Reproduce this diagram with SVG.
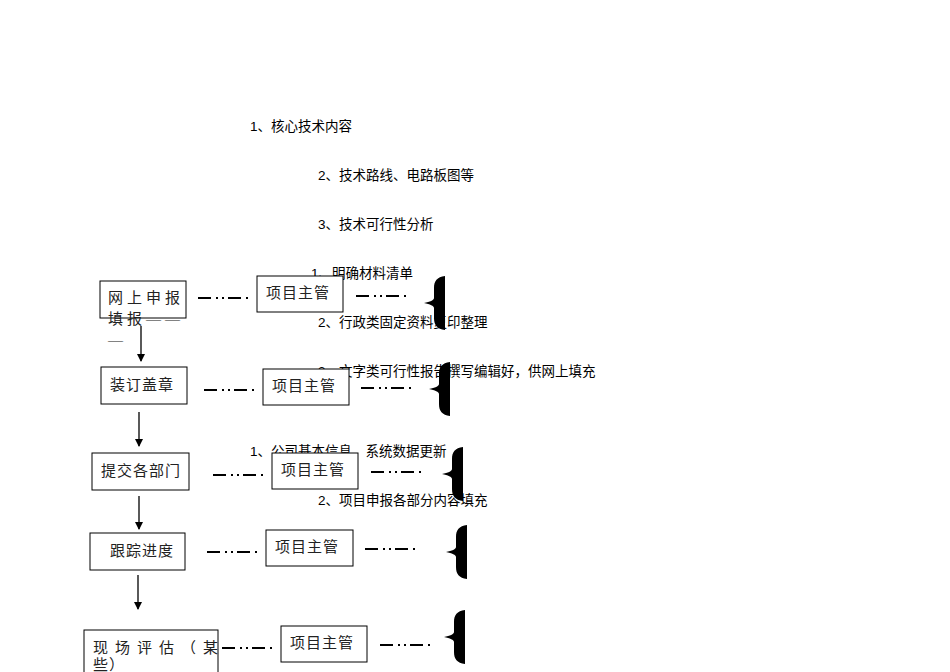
<svg xmlns="http://www.w3.org/2000/svg" width="950" height="672" viewBox="0 0 950 672">
<style>
.t{font-family:"Liberation Sans","Noto Sans CJK SC",sans-serif;font-size:13.5px;fill:#000}
.b{font-family:"Liberation Serif","Noto Sans CJK SC",serif;font-size:15px;fill:#222;letter-spacing:1px}
.box{fill:#fff;stroke:#000;stroke-width:1}
.dd{stroke:#000;stroke-width:2;stroke-dasharray:13 5 2 4 2 4 13 5 2 60}
.ar{stroke:#000;stroke-width:1.3;marker-end:url(#ah)}
</style>
<defs>
<marker id="ah" markerWidth="8" markerHeight="8" refX="7" refY="4" orient="auto" markerUnits="userSpaceOnUse"><path d="M0,0 L8,4 L0,8 z" fill="#000"/></marker>
<path id="br" d="M21,0 C13,1 10,5 10,12 L10,22 C10,24 6,26 0,27 C6,28 10,30 10,32 L10,42 C10,49 13,53 21,54 L21,50 C21,47 21,45 21,41 L21,13 C21,9 21,7 21,4 Z" fill="#000"/>
</defs>
<g id="notes">
<text class="t" x="250" y="131">1、核心技术内容</text>
<text class="t" x="318" y="180">2、技术路线、电路板图等</text>
<text class="t" x="318" y="229">3、技术可行性分析</text>
<text class="t" x="311" y="278">1、明确材料清单</text>
<text class="t" x="318" y="327">2、行政类固定资料复印整理</text>
<text class="t" x="318" y="376">3、文字类可行性报告撰写编辑好，供网上填充</text>
<text class="t" x="250" y="456">1、公司基本信息、系统数据更新</text>
<text class="t" x="318" y="505">2、项目申报各部分内容填充</text>
</g>
<g id="connectors">
<line class="ar" x1="141" y1="326" x2="141" y2="361"/>
<line class="ar" x1="139" y1="412" x2="139" y2="446"/>
<line class="ar" x1="139" y1="496" x2="139" y2="529"/>
<line class="ar" x1="138" y1="575" x2="138" y2="609"/>
<line class="dd" x1="198" y1="298" x2="252" y2="298"/>
<line class="dd" x1="204" y1="390" x2="258" y2="390"/>
<line class="dd" x1="213" y1="475" x2="267" y2="475"/>
<line class="dd" x1="207" y1="552" x2="261" y2="552"/>
<line class="dd" x1="222" y1="648" x2="276" y2="648"/>
<line class="dd" x1="356" y1="296" x2="410" y2="296"/>
<line class="dd" x1="361" y1="388" x2="415" y2="388"/>
<line class="dd" x1="371" y1="472" x2="425" y2="472"/>
<line class="dd" x1="365" y1="549" x2="419" y2="549"/>
<line class="dd" x1="380" y1="645" x2="434" y2="645"/>
</g>
<g id="n1"><rect class="box" x="100" y="281" width="86" height="37"/><text class="b" x="108" y="303" style="letter-spacing:4px">网上申报</text><text class="b" x="108" y="324" style="letter-spacing:4px">填报——</text><text class="b" x="108" y="345">—</text></g>
<g id="n2"><rect class="box" x="101" y="367" width="86" height="37"/><text class="b" x="110" y="390">装订盖章</text></g>
<g id="n3"><rect class="box" x="92" y="453" width="97" height="37"/><text class="b" x="101" y="476">提交各部门</text></g>
<g id="n4"><rect class="box" x="90" y="533" width="95" height="37"/><text class="b" x="110" y="556">跟踪进度</text></g>
<g id="n5"><rect class="box" x="84" y="630" width="134" height="45"/><text class="b" x="93" y="653" style="letter-spacing:7px">现场评估（某</text><text class="b" x="93" y="670">些）</text></g>
<g id="p1"><rect class="box" x="257" y="276" width="86" height="36"/><text class="b" x="266" y="298">项目主管</text></g>
<g id="p2"><rect class="box" x="263" y="369" width="86" height="36"/><text class="b" x="272" y="391">项目主管</text></g>
<g id="p3"><rect class="box" x="272" y="453" width="86" height="36"/><text class="b" x="281" y="475">项目主管</text></g>
<g id="p4"><rect class="box" x="266" y="530" width="87" height="36"/><text class="b" x="275" y="552">项目主管</text></g>
<g id="p5"><rect class="box" x="281" y="626" width="86" height="36"/><text class="b" x="290" y="648">项目主管</text></g>
<g id="braces">
<use href="#br" x="424" y="276"/>
<use href="#br" x="429" y="362"/>
<use href="#br" x="442" y="447"/>
<use href="#br" x="446" y="525"/>
<use href="#br" x="444" y="610"/>
</g>
</svg>
